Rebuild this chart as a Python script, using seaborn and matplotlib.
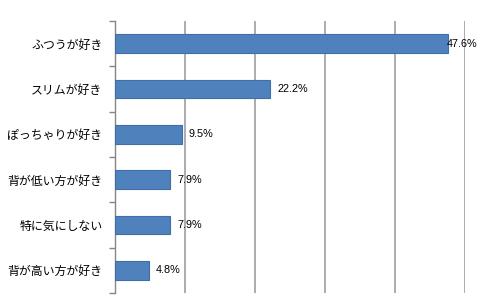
import matplotlib
matplotlib.use("Agg")
import matplotlib.pyplot as plt
import seaborn as sns
import pandas as pd
import numpy as np

categories = ["ふつうが好き", "スリムが好き", "ぽっちゃりが好き", "背が低い方が好き", "特に気にしない", "背が高い方が好き"]
values = [47.6, 22.2, 9.5, 7.9, 7.9, 4.8]
value_labels = ["47.6%", "22.2%", "9.5%", "7.9%", "7.9%", "4.8%"]

sns.set_theme(style="white")
plt.rcParams['font.family'] = ['Noto Sans CJK JP', 'DejaVu Sans']

df = pd.DataFrame({"cat": categories, "val": values})

fig = plt.figure(figsize=(4.8, 3.0), dpi=100)
ax = fig.add_axes([115/480, 1-293/300, 350/480, 272/300])

sns.barplot(data=df, y="cat", x="val", orient="h", color="#4F81BD",
            saturation=1, width=0.41, edgecolor="#3F6FAA", linewidth=0.8, ax=ax, zorder=3)

ax.set_xlim(0, 50)
ax.set_ylim(5.5, -0.5)
ax.set_xticks([0, 10, 20, 30, 40, 50])
ax.set_xticklabels([])
ax.tick_params(axis="x", length=0)
ax.grid(axis="x", color="#A6A6A6", linewidth=1.3, zorder=0)
ax.set_axisbelow(True)

ax.set_yticks(range(len(categories)))
ax.set_yticklabels(categories, fontsize=8.6, color="#000000")
ax.tick_params(axis="y", which="major", length=0, pad=9)
ax.set_yticks(np.arange(-0.5, len(categories), 1.0), minor=True)
ax.tick_params(axis="y", which="minor", length=4, width=1, color="#868686", direction="out", left=True)

for s in ["top", "right", "bottom"]:
    ax.spines[s].set_visible(False)
ax.spines["left"].set_color("#868686")
ax.spines["left"].set_linewidth(1.0)

ax.set_xlabel("")
ax.set_ylabel("")

cont = ax.containers[0]
for i, (rect, lab) in enumerate(zip(cont, value_labels)):
    pad = -1 if values[i] > 45 else 7
    ax.annotate(lab, xy=(rect.get_x() + rect.get_width(), rect.get_y() + rect.get_height()/2),
                xytext=(pad, 0), textcoords="offset pixels",
                ha="left", va="center", fontsize=7.8, color="#000000",
                family=["Liberation Sans", "DejaVu Sans"], zorder=5)

fig.savefig("out.png", dpi=100, facecolor="white")
